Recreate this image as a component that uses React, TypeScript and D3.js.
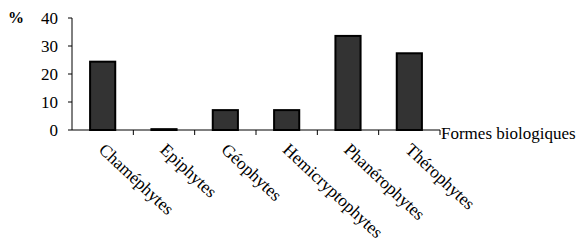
import * as d3 from 'd3'

const categories = ['Chaméphytes', 'Epiphytes', 'Géophytes', 'Hemicryptophytes', 'Phanérophytes', 'Thérophytes']
const values = [24.4, 0.3, 7.1, 7.1, 33.6, 27.4]
const yTicks = [0, 10, 20, 30, 40]

const W = 582
const H = 247
const M = { left: 72, top: 18, right: 142, bottom: 117 }
const FONT = "'Times New Roman', Times, 'Liberation Serif', 'DejaVu Serif', serif"

export default function App() {
  const innerW = W - M.left - M.right
  const innerH = H - M.top - M.bottom

  const x = d3.scaleBand<string>().domain(categories).range([0, innerW]).paddingInner(0.59).paddingOuter(0.295)
  const band = d3.scaleBand<string>().domain(categories).range([0, innerW])
  const y = d3.scaleLinear().domain([0, 40]).range([innerH, 0])

  return (
    <svg width={W} height={H} style={{ position: 'absolute', left: 0, top: 0, background: '#fff', fontFamily: FONT }}>
      <text x={8} y={23} fontSize={16} fontWeight="bold">%</text>
      <g transform={`translate(${M.left},${M.top})`}>
        {categories.map((c, i) => (
          <rect
            key={c}
            x={x(c)}
            y={y(values[i])}
            width={x.bandwidth()}
            height={innerH - y(values[i])}
            fill="#333"
            stroke="#000"
            strokeWidth={2}
          />
        ))}
        <line x1={0} x2={0} y1={0} y2={innerH} stroke="#000" />
        {yTicks.map((t) => (
          <g key={t} transform={`translate(0,${y(t)})`}>
            <line x1={-4} x2={0} stroke="#000" />
            <text x={-14} dy="0.35em" textAnchor="end" fontSize={17}>{t}</text>
          </g>
        ))}
        <line x1={0} x2={innerW} y1={innerH} y2={innerH} stroke="#000" />
        {categories.map((c) => (
          <line key={c} x1={(band(c) ?? 0) + band.bandwidth()} x2={(band(c) ?? 0) + band.bandwidth()} y1={innerH} y2={innerH + 5} stroke="#000" />
        ))}
        {categories.map((c) => {
          const cx = (band(c) ?? 0) + band.bandwidth() / 2
          return (
            <text key={c} transform={`translate(${cx - 5},${innerH + 21}) rotate(43)`} fontSize={17.5}>
              {c}
            </text>
          )
        })}
        <text x={innerW + 1} y={innerH + 9} fontSize={17}>Formes biologiques</text>
      </g>
    </svg>
  )
}
